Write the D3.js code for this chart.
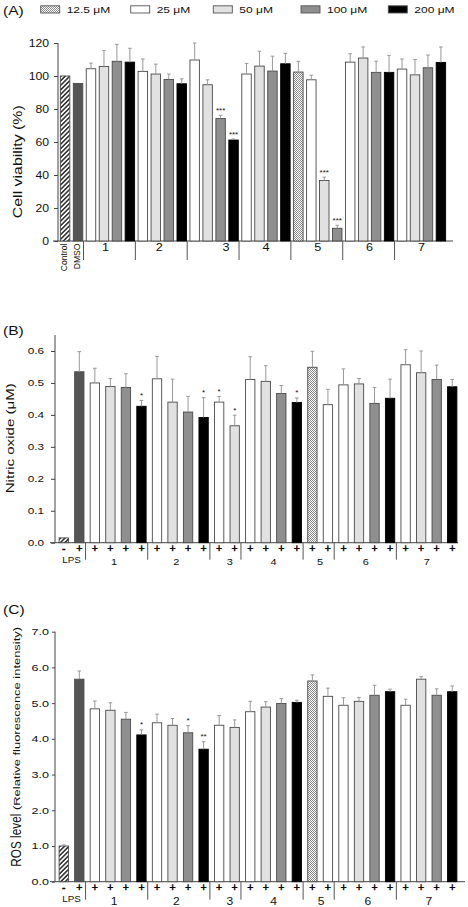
<!DOCTYPE html>
<html><head><meta charset="utf-8">
<script src="https://cdn.jsdelivr.net/npm/d3@7"></script>
<style>body{margin:0;background:#fff}svg{display:block;font-family:"Liberation Sans",Arial,sans-serif}</style>
</head><body><svg id="c" width="468" height="907"></svg>
<script>
// ---------- DATA ----------
const legendKeys = ["12.5","25","50","100","200"];
const legendLabels = ["12.5 μM","25 μM","50 μM","100 μM","200 μM"];

// Panel A: cell viability (%)
const aGroups = ["Control","DMSO","1","1","1","1","2","2","2","2","3","3","3","3","4","4","4","4","5","5","5","5","6","6","6","6","7","7","7","7"];
const aDoses  = ["ctrl","veh","25","50","100","200","25","50","100","200","25","50","100","200","25","50","100","200","12.5","25","50","100","25","50","100","200","25","50","100","200"];
const aValues = [100,95.5,104.4,105.8,108.9,108.4,102.8,101.2,97.9,95.3,109.7,94.7,74.2,61.2,101.2,106,103,107.4,102.4,97.7,36.7,7.7,108.4,110.9,102.2,102.2,104.2,100.7,105,108.2];
const aErrors = [0,0,3.4,9.7,10.3,8.4,7.5,6,3.3,3,10.3,3,2,0.6,6.4,9,9,6.3,6.5,2.8,2,1.8,5.1,6.7,6.8,10.3,6.1,9.3,7.7,9.4];
const aSig    = ["","","","","","","","","","","","","***","***","","","","","","","***","***","","","","","","","",""];
const aTicks  = [0,20,40,60,80,100,120];

// Panel B: nitric oxide (μM)
const bGroups = ["LPS","LPS","1","1","1","1","2","2","2","2","3","3","4","4","4","4","5","5","6","6","6","6","7","7","7","7"];
const bDoses  = ["ctrl","veh","25","50","100","200","25","50","100","200","25","50","25","50","100","200","12.5","25","25","50","100","200","25","50","100","200"];
const bLPS    = ["-","+","+","+","+","+","+","+","+","+","+","+","+","+","+","+","+","+","+","+","+","+","+","+","+","+"];
const bValues = [0.015,0.535,0.50,0.489,0.486,0.427,0.513,0.44,0.409,0.392,0.44,0.366,0.511,0.505,0.467,0.439,0.549,0.432,0.494,0.497,0.436,0.452,0.557,0.532,0.511,0.488];
const bErrors = [0,0.063,0.046,0.025,0.043,0.018,0.07,0.072,0.049,0.062,0.018,0.033,0.071,0.049,0.025,0.014,0.05,0.048,0.05,0.017,0.05,0.06,0.047,0.068,0.045,0.023];
const bSig    = ["","","","","","*","","","","*","*","*","","","","*","","","","","","","","","",""];
const bTicks  = [0,0.1,0.2,0.3,0.4,0.5,0.6];

// Panel C: ROS level
const cGroups = bGroups;
const cDoses  = bDoses;
const cLPS    = bLPS;
const cValues = [1.0,5.67,4.84,4.8,4.55,4.11,4.45,4.38,4.17,3.71,4.38,4.32,4.76,4.89,4.99,5.02,5.62,5.19,4.94,5.05,5.22,5.32,4.94,5.67,5.22,5.32];
const cErrors = [0.03,0.23,0.22,0.21,0.19,0.14,0.24,0.19,0.2,0.21,0.27,0.21,0.29,0.15,0.14,0.06,0.17,0.23,0.21,0.11,0.28,0.07,0.17,0.07,0.18,0.16];
const cSig    = ["","","","","","*","","","*","**","","","","","","","","","","","","","","","",""];
const cTicks  = [0,1,2,3,4,5,6,7];

// ---------- DRAWING ----------
const svg = d3.select("#c");
const FONT = '"Liberation Sans",Arial,sans-serif';
const defs = svg.append("defs");
const hatch = defs.append("pattern").attr("id","hatch").attr("patternUnits","userSpaceOnUse")
  .attr("width",3.2).attr("height",3.2).attr("patternTransform","rotate(45)");
hatch.append("rect").attr("width",3.2).attr("height",3.2).attr("fill","#fff");
hatch.append("line").attr("x1",0.8).attr("y1",0).attr("x2",0.8).attr("y2",3.2).attr("stroke","#1a1a1a").attr("stroke-width",1.4);
const dots = defs.append("pattern").attr("id","dots").attr("patternUnits","userSpaceOnUse").attr("width",2).attr("height",2);
dots.append("rect").attr("width",2).attr("height",2).attr("fill","#fff");
dots.append("rect").attr("width",1).attr("height",1).attr("fill","#8a8a8a");
dots.append("rect").attr("x",1).attr("y",1).attr("width",1).attr("height",1).attr("fill","#8a8a8a");

const fillOf = {ctrl:"url(#hatch)", veh:"#555", "12.5":"url(#dots)", "25":"#fff", "50":"#e1e1e1", "100":"#8f8f8f", "200":"#000"};
const strokeOf = d => d === "200" ? "#000" : "#4a4a4a";

function stretch(sel, k){
  sel.each(function(){
    const L = this.getComputedTextLength();
    if (L > 0){ this.setAttribute("textLength", L*k); this.setAttribute("lengthAdjust","spacingAndGlyphs"); }
  });
}

// Legend (swatch positions as in the reference layout)
const legendX = [40.7,130.7,213.3,301,388.3];
const lg = svg.append("g");
legendKeys.forEach((k,i) => {
  const lx = legendX[i];
  lg.append("rect").attr("x",lx).attr("y",5.8).attr("width",19).attr("height",7.2)
    .attr("fill",fillOf[k]).attr("stroke","#555").attr("stroke-width",0.9);
  stretch(lg.append("text").attr("x",lx+26).attr("y",12.8).attr("font-size",9.4).attr("fill","#111").text(legendLabels[i]),1.28);
});

// panel letters
[["(A)",14.5],["(B)",335],["(C)",614]].forEach(([s,y]) => {
  stretch(svg.append("text").attr("x",3).attr("y",y).attr("font-size",13.5).attr("fill","#111").text(s),1.15);
});

function drawPanel(c){
  const g = svg.append("g");
  const n = c.values.length;
  const x = d3.scaleBand().domain(d3.range(n)).range(c.xRange).paddingInner(c.pad).paddingOuter(c.pad/2);
  const y = d3.scaleLinear().domain(c.yDomain).range(c.yRange);
  const y0 = y(0);
  const bw = x.bandwidth(), step = x.step();

  // y axis
  const ax = g.append("g").attr("transform",`translate(${c.axisX},0)`)
    .call(d3.axisLeft(y).tickValues(c.ticks).tickFormat(c.fmt).tickSize(c.tickSize).tickPadding(c.tickPad).tickSizeOuter(0));
  ax.select(".domain").remove();
  ax.selectAll("line").attr("stroke","#444");
  ax.selectAll("text").attr("font-family",FONT).attr("font-size",c.tickFont).attr("fill","#111");
  stretch(ax.selectAll("text"), c.tickK);
  g.append("line").attr("x1",c.axisX).attr("x2",c.axisX).attr("y1",y0).attr("y2",y(c.yTop)).attr("stroke","#444");
  g.append("line").attr("x1",c.axisX-5).attr("x2",c.xEnd).attr("y1",y0).attr("y2",y0).attr("stroke","#444");

  // bars
  g.selectAll("rect.bar").data(c.values).join("rect").attr("class","bar")
    .attr("x",(d,i)=>x(i)).attr("width",bw)
    .attr("y",d=>y(d)).attr("height",d=>y0-y(d))
    .attr("fill",(d,i)=>fillOf[c.doses[i]]).attr("stroke",(d,i)=>strokeOf(c.doses[i])).attr("stroke-width",0.9);

  // error bars
  c.values.forEach((v,i)=>{
    const e = c.errors[i]; if (!e) return;
    const cx = x(i)+bw/2;
    g.append("line").attr("x1",cx).attr("x2",cx).attr("y1",y(v)).attr("y2",y(v+e)).attr("stroke","#999").attr("stroke-width",1);
    g.append("line").attr("x1",cx-1.8).attr("x2",cx+1.8).attr("y1",y(v+e)).attr("y2",y(v+e)).attr("stroke","#999").attr("stroke-width",1);
  });
  // significance
  c.values.forEach((v,i)=>{
    if (!c.sigs[i]) return;
    g.append("text").attr("x",x(i)+bw/2).attr("y",y(v+c.errors[i])-2.5).attr("text-anchor","middle")
      .attr("font-size",c.sigFont).attr("fill","#111").text(c.sigs[i]);
  });

  // group separators and labels
  const seps = [];
  for (let i=2;i<n;i++) if (c.groups[i]!==c.groups[i-1]) seps.push(i);
  seps.forEach(i=>{
    const sx = x(i) - (step-bw)/2 + c.sepDx;
    g.append("line").attr("x1",sx).attr("x2",sx).attr("y1",y0).attr("y2",y0+c.sepLen).attr("stroke","#555");
  });
  const numGroups = Array.from(new Set(c.groups.filter(s=>/^\d$/.test(s))));
  numGroups.forEach((gname,k)=>{
    const idx = d3.range(n).filter(i=>c.groups[i]===gname);
    const cx = d3.mean(idx, i=>x(i)+bw/2) + c.labelDx[k];
    stretch(g.append("text").attr("x",cx).attr("y",c.labelY).attr("text-anchor","middle")
      .attr("font-size",c.labelFont).attr("fill","#111").text(gname), 1.15);
  });

  // LPS signs
  if (c.signs){
    c.signs.forEach((s,i)=>{
      g.append("text").attr("x",x(i)+bw/2).attr("y",c.signY).attr("text-anchor","middle")
        .attr("font-size",10.5).attr("fill","#000").attr("stroke","#000").attr("stroke-width",0.45).text(s);
    });
    stretch(g.append("text").attr("x",(x(0)+x(1)+bw)/2).attr("y",c.lpsY).attr("text-anchor","middle")
      .attr("font-size",8.5).attr("fill","#111").text("LPS"),1.15);
  } else {
    // Control / DMSO labels
    [0,1].forEach(i=>{
      g.append("text").attr("transform",`translate(${x(i)+bw/2+1.5},${y0+2.5}) rotate(-90)`)
        .attr("text-anchor","end").attr("font-size",8.6).attr("fill","#111").text(c.groups[i]);
    });
  }
  return g;
}

drawPanel({
  groups:aGroups, doses:aDoses, values:aValues, errors:aErrors, sigs:aSig,
  yDomain:[0,120], yRange:[241,43], yTop:120, ticks:aTicks, fmt:d3.format("d"),
  axisX:58, xRange:[58.6,447.4], pad:0.27, xEnd:453,
  tickFont:10, tickK:1.22, tickSize:4, tickPad:5,
  sepDx:-1, sepLen:19, labelY:251, labelFont:11, labelDx:[-5,-3,12,0,0,0,0], sigFont:8
});
drawPanel({
  groups:bGroups, doses:bDoses, values:bValues, errors:bErrors, sigs:bSig, signs:bLPS,
  yDomain:[0,0.6], yRange:[542.7,351], yTop:0.65, ticks:bTicks, fmt:d3.format(".1f"),
  axisX:55, xRange:[56,460], pad:0.4, xEnd:458,
  tickFont:8.7, tickK:1.35, tickSize:4, tickPad:7,
  sepDx:-1.5, sepLen:17, labelY:565, labelFont:9.5, labelDx:[-4,-4,3,0,0,-1,-2], sigFont:8,
  signY:552, lpsY:562.5
});
drawPanel({
  groups:cGroups, doses:cDoses, values:cValues, errors:cErrors, sigs:cSig, signs:cLPS,
  yDomain:[0,7], yRange:[881.7,631.7], yTop:7, ticks:cTicks, fmt:d3.format(".1f"),
  axisX:55, xRange:[56,460], pad:0.4, xEnd:465,
  tickFont:9.3, tickK:1.35, tickSize:3, tickPad:3,
  sepDx:-1.5, sepLen:18, labelY:905, labelFont:10.5, labelDx:[-4,-4,3,0,1,1,0], sigFont:8,
  signY:891, lpsY:901.5
});

// y-axis titles
svg.append("text").attr("transform","translate(22,161.7) rotate(-90)").attr("text-anchor","middle")
  .attr("font-size",13).attr("fill","#111").attr("textLength",113).attr("lengthAdjust","spacingAndGlyphs").text("Cell viability (%)");
svg.append("text").attr("transform","translate(14,438.3) rotate(-90)").attr("text-anchor","middle")
  .attr("font-size",11.5).attr("fill","#111").attr("textLength",110).attr("lengthAdjust","spacingAndGlyphs").text("Nitric oxide (μM)");
svg.append("text").attr("transform","translate(20.5,866.7) rotate(-90)").attr("text-anchor","start")
  .attr("font-size",14.5).attr("fill","#111").attr("textLength",53).attr("lengthAdjust","spacingAndGlyphs").text("ROS level");
svg.append("text").attr("transform","translate(19.5,810) rotate(-90)").attr("text-anchor","start")
  .attr("font-size",9).attr("fill","#111").attr("textLength",183).attr("lengthAdjust","spacingAndGlyphs").text("(Relative fluorescence intensity)");
</script></body></html>
